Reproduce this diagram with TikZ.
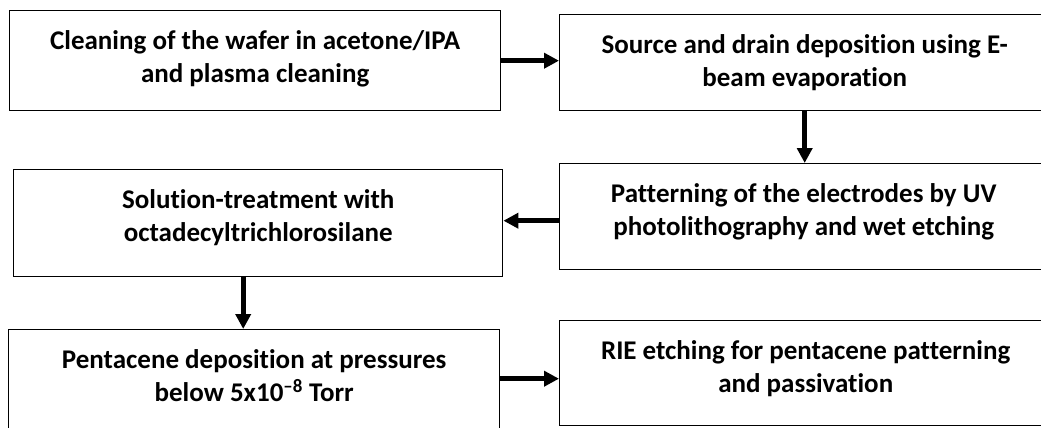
\documentclass[tikz,border=0pt]{standalone}
\usepackage{fontspec}
\setmainfont{Carlito}[Ligatures=NoCommon]
\usetikzlibrary{arrows.meta}

\tikzset{
	stage/.style={draw, line width=1.4pt, anchor=north west, inner sep=0pt, align=flush center,
		text height=39pt, font=\bfseries\fontsize{27}{33}\selectfont},
	flow/.style={line width=5pt, -{Triangle[length=15pt,width=15pt]}}
}

\begin{document}
\begin{tikzpicture}[x=1pt,y=-1pt]
	\useasboundingbox (0,0) rectangle (1041,428);
	\clip (0,0) rectangle (1041,428);
	\fill[white] (0,0) rectangle (1041,428);
	\node[stage, text width=491pt, text depth=61pt] (clean) at (9,10) {Cleaning of the wafer in acetone/IPA\\and plasma cleaning};
	\node[stage, text width=490pt, text depth=57pt] (source) at (559,14) {Source and drain deposition using E-\\beam evaporation};
	\node[stage, text width=488pt, text depth=67pt] (pattern) at (559,163) {Patterning of the electrodes by UV\\photolithography and wet etching};
	\node[stage, text width=489pt, text depth=68pt] (ots) at (13,169) {Solution-treatment with\\octadecyltrichlorosilane};
	\node[stage, text width=491pt, text depth=65pt] (penta) at (8,329) {Pentacene deposition at pressures\\below 5x10\textsuperscript{–8} Torr};
	\node[stage, text width=492pt, text depth=66pt] (rie) at (559,320) {RIE etching for pentacene patterning\\and passivation};
	\draw[flow] (clean.east) -- (clean.east -| source.west);
	\draw[flow] (source.south) -- (source.south |- pattern.north);
	\draw[flow] ([yshift=-4pt]pattern.west) -- ([yshift=-4pt]pattern.west -| ots.east);
	\draw[flow] ([xshift=-15pt]ots.south) -- ([xshift=-15pt]ots.south |- penta.north);
	\draw[flow] ([yshift=3pt]penta.east) -- ([yshift=3pt]penta.east -| rie.west);
\end{tikzpicture}
\end{document}
